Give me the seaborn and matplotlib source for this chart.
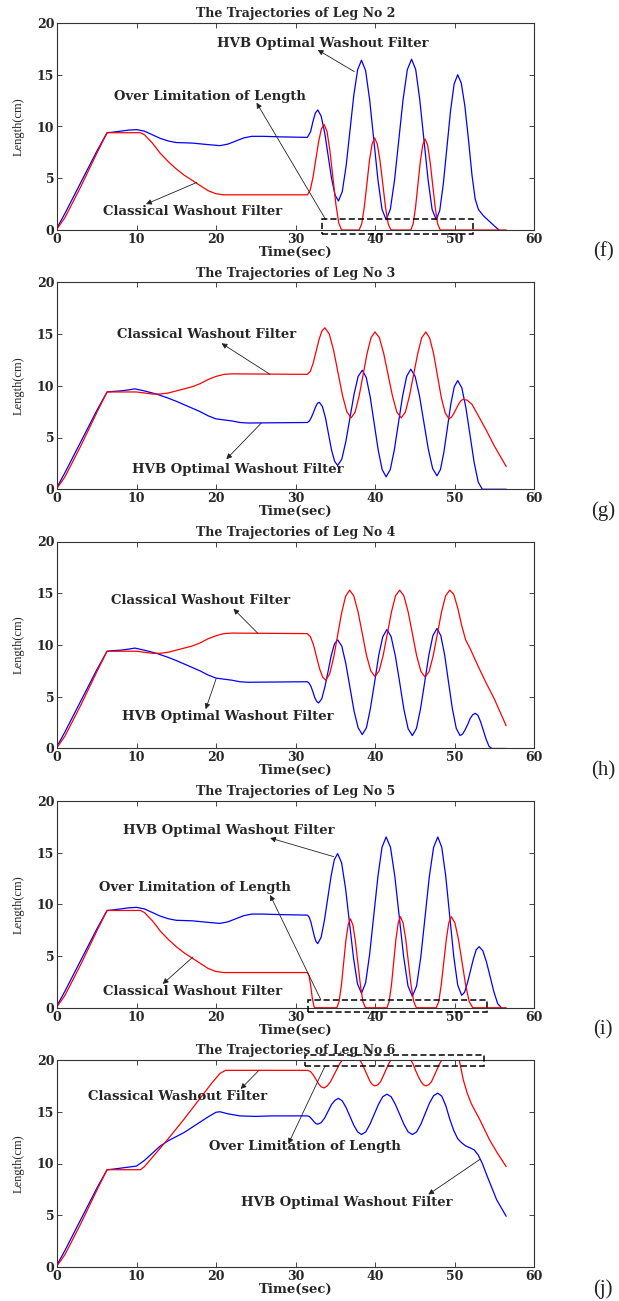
import matplotlib
matplotlib.use("Agg")
import matplotlib.pyplot as plt
import pandas as pd
import seaborn as sns
from matplotlib.patches import Rectangle

# ---- data (time in sec, length in cm) ----
RAMP_HVB = [(0, 0.2), (1, 1.6), (2, 3.1), (3, 4.6), (4, 6.1), (5, 7.6), (6.3, 9.4)]
RAMP_CLS = [(0, 0.1), (1, 1.2), (2, 2.7), (3, 4.2), (4, 5.8), (5, 7.4), (6.3, 9.4)]

# plateau parts shared by legs 2 & 5 and by legs 3 & 4
HVB_FLAT_25 = [(7, 9.45), (8, 9.55), (9, 9.65), (10, 9.7), (11, 9.55), (12, 9.2), (13, 8.85),
               (14, 8.6), (15, 8.45), (17, 8.4), (19, 8.25), (20.5, 8.15), (21.5, 8.3), (22.5, 8.6),
               (23.5, 8.9), (24.5, 9.05), (26, 9.05), (28, 9.0), (31.5, 8.95)]
CLS_FLAT_25 = [(10.5, 9.4), (11, 9.2), (12, 8.4), (13, 7.4), (14, 6.6), (15, 5.9), (16, 5.3),
               (17, 4.8), (18, 4.3), (19, 3.8), (20, 3.5), (21, 3.4), (31.5, 3.4)]
HVB_FLAT_34 = [(7, 9.45), (8, 9.5), (9, 9.6), (9.8, 9.7), (11, 9.5), (12.5, 9.2), (14, 8.8),
               (15, 8.5), (16.5, 8.0), (18, 7.5), (19, 7.1), (20, 6.8), (21, 6.7), (22, 6.6),
               (23, 6.45), (24, 6.4), (31.5, 6.45)]
CLS_FLAT_34 = [(8, 9.4), (10, 9.4), (11, 9.3), (12, 9.2), (13, 9.2), (14, 9.3), (15, 9.5),
               (16, 9.7), (17, 9.9), (18, 10.2), (19, 10.6), (20, 10.9), (21, 11.1), (22, 11.15),
               (31.5, 11.1)]

LEG2_HVB_TAIL = [(31.9, 9.5), (32.2, 10.5), (32.5, 11.3), (32.8, 11.6), (33.23, 11.0), (33.67, 9.4),
                 (34.1, 7.2), (34.53, 5.0), (34.97, 3.4), (35.4, 2.8), (35.88, 3.7), (36.37, 6.2),
                 (36.85, 9.6), (37.33, 13.0), (37.82, 15.5), (38.3, 16.4), (38.82, 15.4), (39.33, 12.55),
                 (39.85, 8.7), (40.37, 4.85), (40.88, 2.0), (41.4, 1.0), (41.93, 2.0), (42.47, 4.9),
                 (43.0, 8.75), (43.53, 12.6), (44.07, 15.5), (44.6, 16.5), (45.12, 15.5), (45.63, 12.6),
                 (46.15, 8.75), (46.67, 4.9), (47.18, 2.0), (47.7, 1.0), (48.15, 1.9), (48.6, 4.5),
                 (49.05, 8.0), (49.5, 11.5), (49.95, 14.1), (50.4, 15.0), (50.85, 14.2), (51.3, 12.0),
                 (51.75, 8.8), (52.2, 5.3), (52.6, 3.0), (53.0, 2.0), (53.6, 1.4), (54.3, 0.9),
                 (55.0, 0.4), (55.6, 0.0)]
LEG2_CLS_TAIL = [(31.85, 3.85), (32.2, 5.1), (32.55, 6.8), (32.9, 8.5), (33.25, 9.75), (33.6, 10.2),
                 (33.97, 9.5), (34.33, 7.65), (34.7, 5.1), (35.07, 2.55), (35.43, 0.7), (35.8, 0),
                 (38.0, 0), (38.33, 0.6), (38.65, 2.2), (38.98, 4.45), (39.3, 6.7), (39.63, 8.3),
                 (39.95, 8.9), (40.29, 8.3), (40.63, 6.7), (40.98, 4.45), (41.32, 2.2), (41.66, 0.6),
                 (42.0, 0), (44.5, 0), (44.8, 0.6), (45.1, 2.2), (45.4, 4.4), (45.7, 6.6), (46.0, 8.2),
                 (46.3, 8.8), (46.62, 8.2), (46.93, 6.6), (47.25, 4.4), (47.57, 2.2), (47.88, 0.6),
                 (48.2, 0), (56.5, 0)]

LEG3_HVB_TAIL = [(31.75, 6.6), (32.0, 6.95), (32.25, 7.4), (32.5, 7.9), (32.75, 8.3), (33.0, 8.4),
                 (33.38, 8.0), (33.77, 6.9), (34.15, 5.35), (34.53, 3.8), (34.92, 2.7), (35.3, 2.3),
                 (35.82, 2.9), (36.33, 4.6), (36.85, 6.9), (37.37, 9.2), (37.88, 10.9), (38.4, 11.5),
                 (38.9, 10.8), (39.4, 8.9), (39.9, 6.35), (40.4, 3.8), (40.9, 1.9), (41.4, 1.2),
                 (41.92, 1.9), (42.43, 3.8), (42.95, 6.4), (43.47, 9.0), (43.98, 10.9), (44.5, 11.6),
                 (45.05, 10.9), (45.6, 9.0), (46.15, 6.45), (46.7, 3.9), (47.25, 2.0), (47.8, 1.3),
                 (48.23, 1.9), (48.67, 3.6), (49.1, 5.9), (49.53, 8.2), (49.97, 9.9), (50.4, 10.5),
                 (50.92, 9.8), (51.43, 7.9), (51.95, 5.25), (52.47, 2.6), (52.98, 0.7), (53.5, 0),
                 (56.5, 0)]
LEG3_CLS_TAIL = [(31.87, 11.4), (32.23, 12.2), (32.6, 13.35), (32.97, 14.5), (33.33, 15.3), (33.7, 15.6),
                 (34.25, 15.0), (34.8, 13.4), (35.35, 11.25), (35.9, 9.1), (36.45, 7.5), (37.0, 6.9),
                 (37.5, 7.45), (38.0, 9.0), (38.5, 11.05), (39.0, 13.1), (39.5, 14.65), (40.0, 15.2),
                 (40.55, 14.65), (41.1, 13.1), (41.65, 11.05), (42.2, 9.0), (42.75, 7.45), (43.3, 6.9),
                 (43.82, 7.45), (44.33, 9.0), (44.85, 11.05), (45.37, 13.1), (45.88, 14.65), (46.4, 15.2),
                 (46.88, 14.6), (47.37, 13.1), (47.85, 11.0), (48.33, 8.9), (48.82, 7.4), (49.3, 6.8),
                 (49.6, 6.95), (49.9, 7.3), (50.2, 7.75), (50.5, 8.2), (50.8, 8.55), (51.1, 8.7),
                 (51.6, 8.6), (52.2, 8.2), (53.0, 7.1), (54.0, 5.7), (55.0, 4.2), (56.5, 2.2)]

LEG4_HVB_TAIL = [(31.73, 6.3), (31.97, 5.95), (32.2, 5.45), (32.43, 4.9), (32.67, 4.55), (32.9, 4.4),
                 (33.3, 4.8), (33.7, 5.95), (34.1, 7.45), (34.5, 9.0), (34.9, 10.1), (35.3, 10.5),
                 (35.82, 9.9), (36.33, 8.2), (36.85, 5.9), (37.37, 3.6), (37.88, 2.0), (38.4, 1.35),
                 (38.92, 2.0), (39.43, 3.9), (39.95, 6.4), (40.47, 9.0), (40.98, 10.8), (41.5, 11.5),
                 (42.03, 10.8), (42.57, 8.9), (43.1, 6.4), (43.63, 3.8), (44.17, 1.9), (44.7, 1.25),
                 (45.22, 1.95), (45.73, 3.85), (46.25, 6.4), (46.77, 9.0), (47.28, 10.9), (47.8, 11.6),
                 (48.28, 10.9), (48.77, 9.0), (49.25, 6.4), (49.73, 3.85), (50.22, 1.95), (50.7, 1.25),
                 (51.02, 1.4), (51.33, 1.8), (51.65, 2.3), (51.97, 2.9), (52.28, 3.25), (52.6, 3.4),
                 (52.95, 3.2), (53.3, 2.55), (53.65, 1.7), (54.0, 0.85), (54.35, 0.2), (54.7, 0),
                 (56.5, 0)]
LEG4_CLS_TAIL = [(31.88, 10.8), (32.27, 10.0), (32.65, 8.85), (33.03, 7.7), (33.42, 6.9), (33.8, 6.6),
                 (34.3, 7.2), (34.8, 8.8), (35.3, 10.95), (35.8, 13.1), (36.3, 14.7), (36.8, 15.3),
                 (37.33, 14.75), (37.87, 13.2), (38.4, 11.1), (38.93, 9.0), (39.47, 7.5), (40.0, 6.95),
                 (40.52, 7.5), (41.03, 9.0), (41.55, 11.1), (42.07, 13.2), (42.58, 14.75), (43.1, 15.3),
                 (43.63, 14.75), (44.17, 13.2), (44.7, 11.1), (45.23, 9.0), (45.77, 7.45), (46.3, 6.9),
                 (46.82, 7.45), (47.33, 9.0), (47.85, 11.1), (48.37, 13.2), (48.88, 14.75), (49.4, 15.3),
                 (49.9, 14.9), (50.4, 13.6), (50.9, 11.9), (51.4, 10.5), (52.0, 9.6), (53.0, 7.9),
                 (54.0, 6.3), (55.0, 4.8), (56.5, 2.2)]

LEG5_HVB_TAIL = [(31.72, 8.75), (31.93, 8.3), (32.15, 7.6), (32.37, 6.9), (32.58, 6.4), (32.8, 6.2),
                 (33.22, 6.8), (33.63, 8.4), (34.05, 10.55), (34.47, 12.7), (34.88, 14.3), (35.3, 14.9),
                 (35.8, 14.0), (36.3, 11.5), (36.8, 8.15), (37.3, 4.8), (37.8, 2.3), (38.3, 1.4),
                 (38.82, 2.4), (39.33, 5.2), (39.85, 8.95), (40.37, 12.7), (40.88, 15.5), (41.4, 16.5),
                 (41.95, 15.5), (42.5, 12.65), (43.05, 8.8), (43.6, 4.95), (44.15, 2.1), (44.7, 1.1),
                 (45.23, 2.1), (45.77, 4.95), (46.3, 8.8), (46.83, 12.65), (47.37, 15.5), (47.9, 16.5),
                 (48.4, 15.5), (48.9, 12.7), (49.4, 8.85), (49.9, 5.0), (50.4, 2.2), (50.9, 1.2),
                 (51.27, 1.5), (51.63, 2.4), (52.0, 3.55), (52.37, 4.7), (52.73, 5.6), (53.1, 5.9),
                 (53.57, 5.5), (54.03, 4.4), (54.5, 2.95), (54.97, 1.5), (55.43, 0.4), (55.9, 0)]
LEG5_CLS_TAIL = [(31.7, 3.1), (31.9, 2.2), (32.1, 1.0), (32.3, 0.2), (32.4, 0), (35.2, 0),
                 (35.48, 0.6), (35.77, 2.15), (36.05, 4.3), (36.33, 6.45), (36.62, 8.0), (36.9, 8.6),
                 (37.22, 8.0), (37.53, 6.45), (37.85, 4.3), (38.17, 2.15), (38.48, 0.6), (38.8, 0),
                 (41.5, 0), (41.78, 0.6), (42.07, 2.2), (42.35, 4.4), (42.63, 6.6), (42.92, 8.2),
                 (43.2, 8.8), (43.53, 8.2), (43.87, 6.6), (44.2, 4.4), (44.53, 2.2), (44.87, 0.6),
                 (45.2, 0), (47.7, 0), (48.02, 0.6), (48.33, 2.2), (48.65, 4.4), (48.97, 6.6),
                 (49.28, 8.2), (49.6, 8.8), (50.05, 8.2), (50.5, 6.6), (50.95, 4.4), (51.4, 2.2),
                 (51.85, 0.6), (52.3, 0), (56.5, 0)]

LEG6_HVB_TAIL = [(7, 9.45), (8, 9.55), (9, 9.65), (10, 9.75), (11, 10.3), (12, 11.0), (13, 11.7),
                 (14, 12.2), (15, 12.6), (16, 13.0), (17, 13.5), (18, 14.0), (19, 14.5), (20, 14.95),
                 (20.5, 15.0), (21.5, 14.8), (23, 14.6), (25, 14.55), (27, 14.6), (31.5, 14.6),
                 (31.72, 14.55), (31.93, 14.4), (32.15, 14.2), (32.37, 14.0), (32.58, 13.85), (32.8, 13.8),
                 (33.23, 13.95), (33.67, 14.4), (34.1, 15.05), (34.53, 15.7), (34.97, 16.1), (35.4, 16.3),
                 (35.88, 16.05), (36.37, 15.4), (36.85, 14.55), (37.33, 13.7), (37.82, 13.05), (38.3, 12.8),
                 (38.83, 13.05), (39.37, 13.8), (39.9, 14.75), (40.43, 15.7), (40.97, 16.45), (41.5, 16.7),
                 (42.03, 16.45), (42.57, 15.7), (43.1, 14.75), (43.63, 13.8), (44.17, 13.05), (44.7, 12.8),
                 (45.23, 13.05), (45.77, 13.8), (46.3, 14.8), (46.83, 15.8), (47.37, 16.55), (47.9, 16.8),
                 (48.4, 16.5), (48.9, 15.6), (49.4, 14.3), (49.9, 13.2), (50.4, 12.4), (50.9, 12.0),
                 (51.4, 11.7), (52.0, 11.5), (52.5, 11.3), (53.0, 10.8), (53.5, 10.0), (54.1, 8.8),
                 (55.3, 6.5), (56.5, 4.9)]
LEG6_CLS_TAIL = [(10.5, 9.4), (11, 9.7), (12, 10.6), (14, 12.4), (16, 14.3), (18, 16.3), (19.5, 17.8),
                 (20.5, 18.7), (21.2, 19.0), (31.5, 19.0), (31.85, 18.9), (32.2, 18.6), (32.55, 18.15),
                 (32.9, 17.7), (33.25, 17.4), (33.6, 17.3), (34.0, 17.5), (34.4, 17.9), (34.8, 18.5),
                 (35.2, 19.1), (35.6, 19.7), (35.9, 20.0), (38.1, 20.0), (38.4, 19.6), (38.75, 19.0),
                 (39.1, 18.4), (39.4, 17.9), (39.7, 17.6), (40.0, 17.5), (40.35, 17.6), (40.7, 17.9),
                 (41.0, 18.4), (41.35, 19.0), (41.7, 19.6), (42.0, 20.0), (44.5, 20.0), (44.8, 19.6),
                 (45.1, 19.0), (45.45, 18.4), (45.8, 17.9), (46.1, 17.6), (46.4, 17.5), (46.75, 17.6),
                 (47.1, 17.9), (47.4, 18.4), (47.75, 19.0), (48.1, 19.6), (48.4, 20.0), (50.6, 20.0),
                 (51.1, 18.1), (51.6, 16.8), (52.1, 15.8), (53.2, 14.2), (54.4, 12.3), (55.4, 11.0),
                 (56.5, 9.7)]

LEGS = [2, 3, 4, 5, 6]
PANEL_TAGS = ["(f)", "(g)", "(h)", "(i)", "(j)"]
HVB = "HVB Optimal Washout Filter"
CLS = "Classical Washout Filter"
OVER = "Over Limitation of Length"

series = {
    2: (RAMP_HVB + HVB_FLAT_25 + LEG2_HVB_TAIL, RAMP_CLS + CLS_FLAT_25 + LEG2_CLS_TAIL),
    3: (RAMP_HVB + HVB_FLAT_34 + LEG3_HVB_TAIL, RAMP_CLS + CLS_FLAT_34 + LEG3_CLS_TAIL),
    4: (RAMP_HVB + HVB_FLAT_34 + LEG4_HVB_TAIL, RAMP_CLS + CLS_FLAT_34 + LEG4_CLS_TAIL),
    5: (RAMP_HVB + HVB_FLAT_25 + LEG5_HVB_TAIL, RAMP_CLS + CLS_FLAT_25 + LEG5_CLS_TAIL),
    6: (RAMP_HVB + LEG6_HVB_TAIL, RAMP_CLS + LEG6_CLS_TAIL),
}

# annotations: (text, text centre, arrow head, arrow tail)
notes = {
    2: [(HVB, (33.4, 18.0), (32.8, 17.4), (37.4, 15.3)),
        (OVER, (19.3, 12.9), (25.1, 12.3), (33.8, 1.0)),
        (CLS, (17.1, 1.8), (11.2, 2.5), (17.6, 4.6))],
    3: [(CLS, (18.8, 15.0), (20.7, 14.1), (26.8, 11.1)),
        (HVB, (22.8, 1.9), (21.3, 2.9), (25.7, 6.4))],
    4: [(CLS, (18.1, 14.3), (22.2, 13.5), (25.3, 11.1)),
        (HVB, (21.5, 3.1), (18.7, 3.8), (20.0, 6.7))],
    5: [(HVB, (21.6, 17.1), (26.8, 16.4), (34.8, 14.6)),
        (OVER, (17.4, 11.6), (26.8, 10.9), (33.2, 0.75)),
        (CLS, (17.1, 1.6), (13.3, 2.3), (17.1, 4.9))],
    6: [(CLS, (15.2, 16.5), (23.1, 17.2), (25.4, 19.0)),
        (OVER, (31.2, 11.6), (29.1, 11.9), (33.7, 19.4)),
        (HVB, (36.5, 6.2), (46.7, 7.0), (53.2, 10.4))],
}

# dashed "over limitation" boxes: (x0, y0, x1, y1)
boxes = {2: (33.3, -0.4, 52.3, 1.05), 5: (31.6, -0.45, 54.1, 0.75), 6: (31.2, 19.4, 53.7, 20.5)}

sns.set_style("ticks")
plt.rcParams["font.family"] = ["DejaVu Serif"]
plt.rcParams["axes.linewidth"] = 0.8

W, H = 619, 1301
fig = plt.figure(figsize=(W / 100, H / 100), dpi=100)
palette = {HVB: "#0000ff", CLS: "#ff0000"}

for i, leg in enumerate(LEGS):
    top = 23 + 259.25 * i
    ax = fig.add_axes([57 / W, 1 - (top + 207) / H, 477 / W, 207 / H])

    hvb_pts, cls_pts = series[leg]
    df = pd.concat([
        pd.DataFrame(hvb_pts, columns=["time", "length"]).assign(filt=HVB),
        pd.DataFrame(cls_pts, columns=["time", "length"]).assign(filt=CLS),
    ])
    sns.lineplot(data=df, x="time", y="length", hue="filt", palette=palette,
                 estimator=None, sort=False, legend=False, linewidth=0.9, ax=ax)

    ax.set_xlim(0, 60)
    ax.set_ylim(0, 20)
    ax.set_xticks(range(0, 61, 10))
    ax.set_yticks(range(0, 21, 5))
    ax.tick_params(direction="in", top=True, right=True, length=3.5, width=0.6, pad=2,
                   labelsize=9)
    for lab in ax.get_xticklabels() + ax.get_yticklabels():
        lab.set_fontweight("bold")
    for s in ax.spines.values():
        s.set_color("#333333")

    ax.set_title(f"The Trajectories of Leg No {leg}", fontsize=9, fontweight="bold", pad=4)
    ax.set_xlabel("Time(sec)", fontsize=9.5, fontweight="bold", labelpad=0)
    ax.set_ylabel("Length(cm)", fontsize=9, family="Liberation Serif", labelpad=9)

    for text, tpos, head, tail in notes[leg]:
        ax.annotate("", xy=head, xytext=tail,
                    arrowprops=dict(arrowstyle="-|>", color="#222222", lw=0.6,
                                    mutation_scale=8, shrinkA=0, shrinkB=0),
                    annotation_clip=False)
        ax.text(tpos[0], tpos[1], text, ha="center", va="center", fontsize=9.5,
                fontweight="bold")

    if leg in boxes:
        x0, y0, x1, y1 = boxes[leg]
        ax.add_patch(Rectangle((x0, y0), x1 - x0, y1 - y0, fill=False, edgecolor="black",
                               linestyle=(0, (4, 2)), linewidth=1.1, clip_on=False, zorder=5))

    fig.text(603 / W, 1 - (top + 207 + 22) / H, PANEL_TAGS[i], ha="center", va="center",
             fontsize=15, family="Liberation Serif")

fig.savefig("out.png", dpi=100)
